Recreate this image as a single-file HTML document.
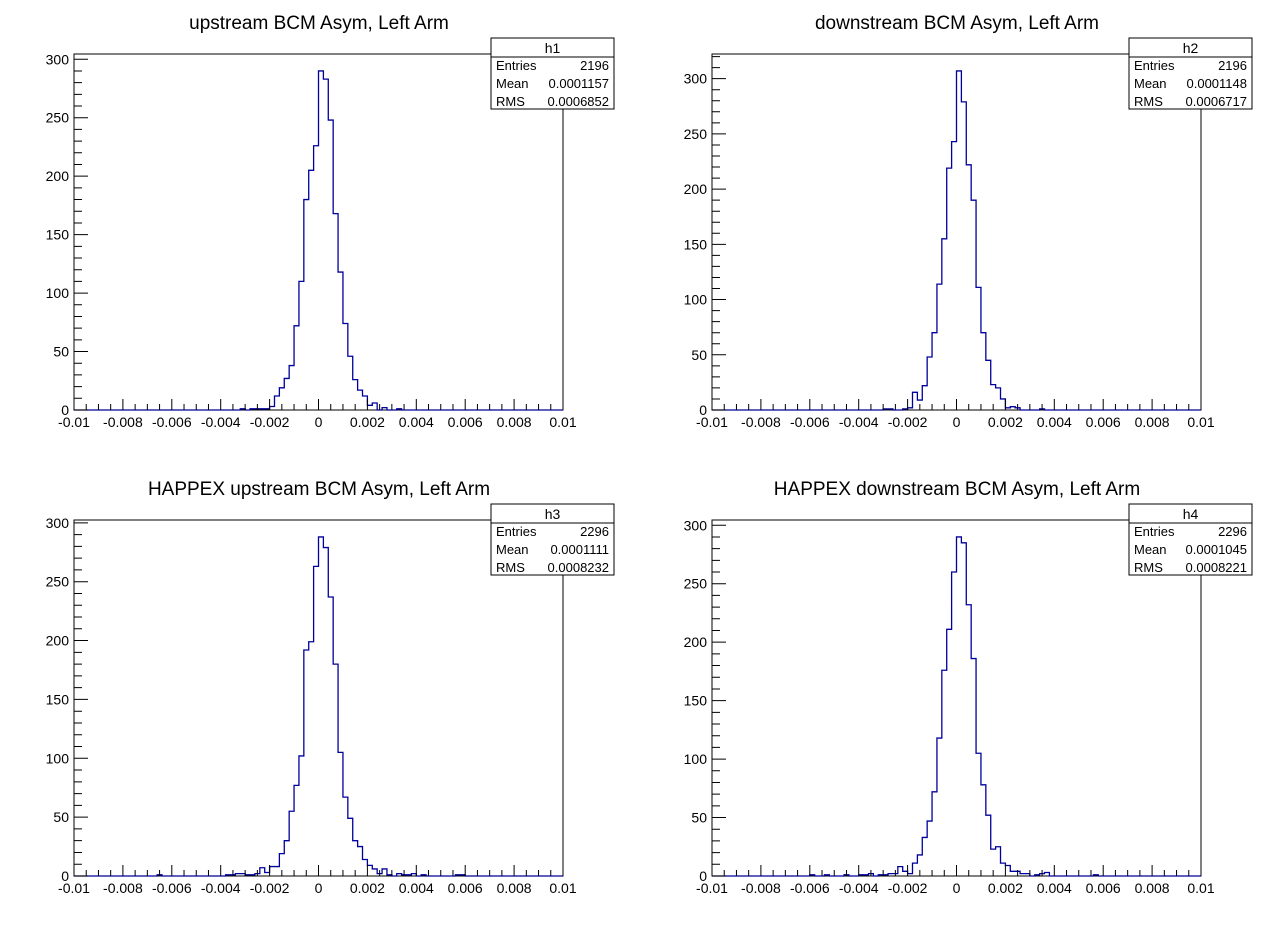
<!DOCTYPE html>
<html><head><meta charset="utf-8">
<style>
html,body{margin:0;padding:0;background:#fff;}
svg{display:block;font-family:"Liberation Sans",Arial,sans-serif;}
</style></head>
<body>
<svg id="cv" width="1276" height="932" viewBox="0 0 1276 932" xmlns="http://www.w3.org/2000/svg">
<rect x="0" y="0" width="1276" height="932" fill="#fff"/>
</svg>
<script>
// ---- data ----
const titles = ["upstream BCM Asym, Left Arm","downstream BCM Asym, Left Arm","HAPPEX upstream BCM Asym, Left Arm","HAPPEX downstream BCM Asym, Left Arm"];
const histNames = ["h1","h2","h3","h4"];
const entries = ["2196","2196","2296","2296"];
const means = ["0.0001157","0.0001148","0.0001111","0.0001045"];
const rmsVals = ["0.0006852","0.0006717","0.0008232","0.0008221"];
const h1Start = 34;
const h1Counts = [1,0,1,1,1,1,3,12,19,27,38,72,110,180,205,226,290,283,248,168,118,74,46,26,17,12,4,6,0,2,0,0,1];
const h2Start = 35;
const h2Counts = [1,1,0,0,1,2,16,9,22,48,70,114,155,219,243,307,279,222,190,111,70,45,23,20,10,2,3,2,0,0,0,0,1];
const h3Start = 17;
const h3Counts = [1,0,0,0,0,0,0,0,0,0,0,0,0,0,1,1,2,2,1,1,2,7,3,8,8,19,30,55,77,102,192,199,263,288,279,237,180,105,67,49,30,25,14,9,6,2,6,1,0,2,1,1,2,0,1,0,0,0,0,0,0,1,1];
const h4Start = 20;
const h4Counts = [1,0,0,1,0,0,0,1,0,0,1,1,2,0,1,1,2,2,8,4,2,11,18,33,47,72,118,176,211,260,290,285,232,186,105,78,52,23,25,11,9,4,4,2,2,0,1,2,3,0,0,0,0,0,0,0,0,0,1];
const xTickLabels = ["-0.01","-0.008","-0.006","-0.004","-0.002","0","0.002","0.004","0.006","0.008","0.01"];
const yTickLabels = ["0","50","100","150","200","250","300"];
const xMin = -0.01, xMax = 0.01, nBins = 100;

const NS = "http://www.w3.org/2000/svg";
const cv = document.getElementById("cv");
function mk(tag, attrs, parent){
  const e = document.createElementNS(NS, tag);
  for (const k in attrs) e.setAttribute(k, attrs[k]);
  (parent||cv).appendChild(e);
  return e;
}
const starts = [h1Start,h2Start,h3Start,h4Start];
const counts = [h1Counts,h2Counts,h3Counts,h4Counts];
const pads = [
  {ox:0, oy:0},{ox:638, oy:0},{ox:0, oy:466},{ox:638, oy:466}
];
pads.forEach((p, k) => {
  const g = mk("g", {});
  
  
  const L = p.ox + 74, R = p.ox + 563, T = p.oy + 54, B = p.oy + 410;
  const cs = counts[k], st = starts[k];
  const ymax = Math.max(...cs) * 1.05;
  const X = v => L + (v - xMin) / (xMax - xMin) * (R - L);
  const Y = c => B - c / ymax * (B - T);
  const t = mk("text", {x: p.ox + 319, y: p.oy + 29, "text-anchor":"middle", "font-size":"19", fill:"#000"}, g);
  t.textContent = titles[k];
  
  
  const fr = mk("rect", {x:L, y:T, width:R-L, height:B-T, fill:"none", stroke:"#000", "stroke-width":"1"}, g);
  
  
  const bw = (xMax - xMin) / nBins;
  let d = "M" + X(xMin) + " " + B;
  for (let i = 0; i < nBins; i++) {
    const j = i - st;
    const c = (j >= 0 && j < cs.length) ? cs[j] : 0;
    const x0 = X(xMin + i * bw), x1 = X(xMin + (i + 1) * bw);
    d += " L" + x0.toFixed(2) + " " + Y(c).toFixed(2) + " L" + x1.toFixed(2) + " " + Y(c).toFixed(2);
  }
  d += " L" + X(xMax) + " " + B;
  const h = mk("path", {d: d, fill:"none", stroke:"#00009c", "stroke-width":"1.3"}, g);
  
  
  let td = "";
  for (let i = 0; i <= 40; i++) {
    const v = xMin + i * 0.0005, x = X(v);
    const len = (i % 4 === 0) ? 11 : 6;
    td += "M" + x.toFixed(2) + " " + B + " L" + x.toFixed(2) + " " + (B - len) + " ";
  }
  for (let c = 0; c <= ymax; c += 10) {
    const y = Y(c);
    const len = (c % 50 === 0) ? 14 : 8;
    td += "M" + L + " " + y.toFixed(2) + " L" + (L + len) + " " + y.toFixed(2) + " ";
  }
  const tk = mk("path", {d: td, stroke:"#000", "stroke-width":"1", fill:"none"}, g);
  
  
  xTickLabels.forEach(lbl => {
    const v = parseFloat(lbl);
    const tx = mk("text", {x: X(v), y: B + 17, "text-anchor":"middle", "font-size":"14", fill:"#000"}, g);
    tx.textContent = lbl;
    
    
  });
  yTickLabels.forEach(lbl => {
    const v = parseFloat(lbl);
    if (v > ymax) return;
    const ty = mk("text", {x: L - 5, y: Y(v) + 5, "text-anchor":"end", "font-size":"14", fill:"#000"}, g);
    ty.textContent = lbl;
    
    
  });
  const sx = p.ox + 491, sy = p.oy + 38, sw = 123, sh = 71;
  const sb = mk("g", {}, g);
  
  
  mk("rect", {x:sx, y:sy, width:sw, height:sh, fill:"#fff", stroke:"#000", "stroke-width":"1"}, sb);
  mk("line", {x1:sx, y1:sy+19, x2:sx+sw, y2:sy+19, stroke:"#000", "stroke-width":"1"}, sb);
  const hn = mk("text", {x:sx+sw/2, y:sy+15, "text-anchor":"middle", "font-size":"14", fill:"#000"}, sb);
  hn.textContent = histNames[k];
  
  
  const rows = [["Entries", entries[k]],["Mean", means[k]],["RMS", rmsVals[k]]];
  rows.forEach((r, i) => {
    const yy = sy + 32 + i * 18;
    const a = mk("text", {x:sx+5, y:yy, "font-size":"13", fill:"#000"}, sb);
    a.textContent = r[0];
    
    
    const b = mk("text", {x:sx+sw-5, y:yy, "text-anchor":"end", "font-size":"13", fill:"#000"}, sb);
    b.textContent = r[1];
    
    
  });
});
</script>
</body></html>
